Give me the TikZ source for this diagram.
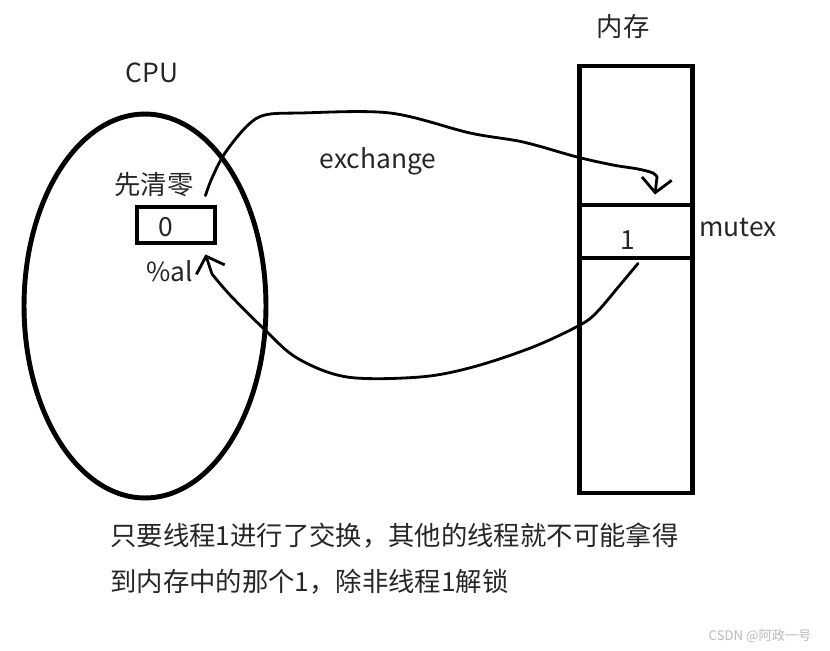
\documentclass[tikz,border=0pt]{standalone}
\usepackage{fontspec}
\setmainfont{Noto Sans CJK SC}
\usetikzlibrary{arrows.meta,shapes.geometric}

\begin{document}
\begin{tikzpicture}[
    x=0.02cm, y=-0.02cm,
    txt/.style={font=\fontsize{15}{18}\selectfont, text=black!85, inner sep=0pt},
    cpubox/.style={ellipse, draw, line width=2.8pt, inner sep=0pt,
                 minimum width=4.84cm, minimum height=7.68cm},
    regbox/.style={rectangle, draw, line width=2.8pt, inner sep=0pt,
                 minimum width=1.56cm, minimum height=0.72cm},
    membox/.style={rectangle, draw, line width=2.8pt, inner sep=0pt,
                 minimum width=2.26cm},
    flow/.style={line width=1.6pt, line cap=round, line join=round,
                 -{Straight Barb[length=8pt, width=17pt]}},
  ]
  \useasboundingbox (0,0) rectangle (830,651);

  \node[cpubox] (cpu) at (145,306) {};
  \node[regbox] (reg) at (176,225) {};
  \node[membox, minimum height=8.54cm] (mem)  at (636,279.5) {};
  \node[membox, minimum height=1.06cm] (cell) at (636,231.5) {};

  \node[txt] (cputxt)  at (152,73)  {CPU};
  \node[txt] (clear)   at (154,185) {先清零};
  \node[txt] (zero)    at (166,227) {0};
  \node[txt] (al)      at (170,271) {\%al};
  \node[txt] (memtxt)  at (623,27)  {内存};
  \node[txt] (one)     at (628,240) {1};
  \node[txt] (mutex)   at (738,228) {mutex};
  \node[txt] (xchg)    at (378,161) {exchange};
  \node[txt, anchor=west] (note1) at (110,536) {只要线程1进行了交换，其他的线程就不可能拿得};
  \node[txt, anchor=west] (note2) at (110,582) {到内存中的那个1，除非线程1解锁};
  \node[txt, font=\fontsize{7.5}{9}\selectfont, text=gray!55] (mark) at (760,636) {CSDN @阿政一号};

  % register -> memory
  \draw[flow] plot[smooth, tension=0.55] coordinates {([shift={(-12,-9)}]reg.north east)
      (212,178) (225,153) (247,126) (265,115) (300,113) (390,113) (470,133)
      (523,142) (577,157) (613,165) (638,169) (653,173) (657,177)}
      -- ([shift={(19,-8)}]cell.north);
  % memory -> register
  \draw[flow] plot[smooth, tension=0.55] coordinates {([shift={(2,3)}]cell.south)
      (620,285) (597,312) (580,325) (533,347) (473,367) (420,377) (347,377)
      (297,358) (263,328) (230,295) (212,274)}
      -- ([shift={(-12,9)}]reg.south east);
\end{tikzpicture}
\end{document}
